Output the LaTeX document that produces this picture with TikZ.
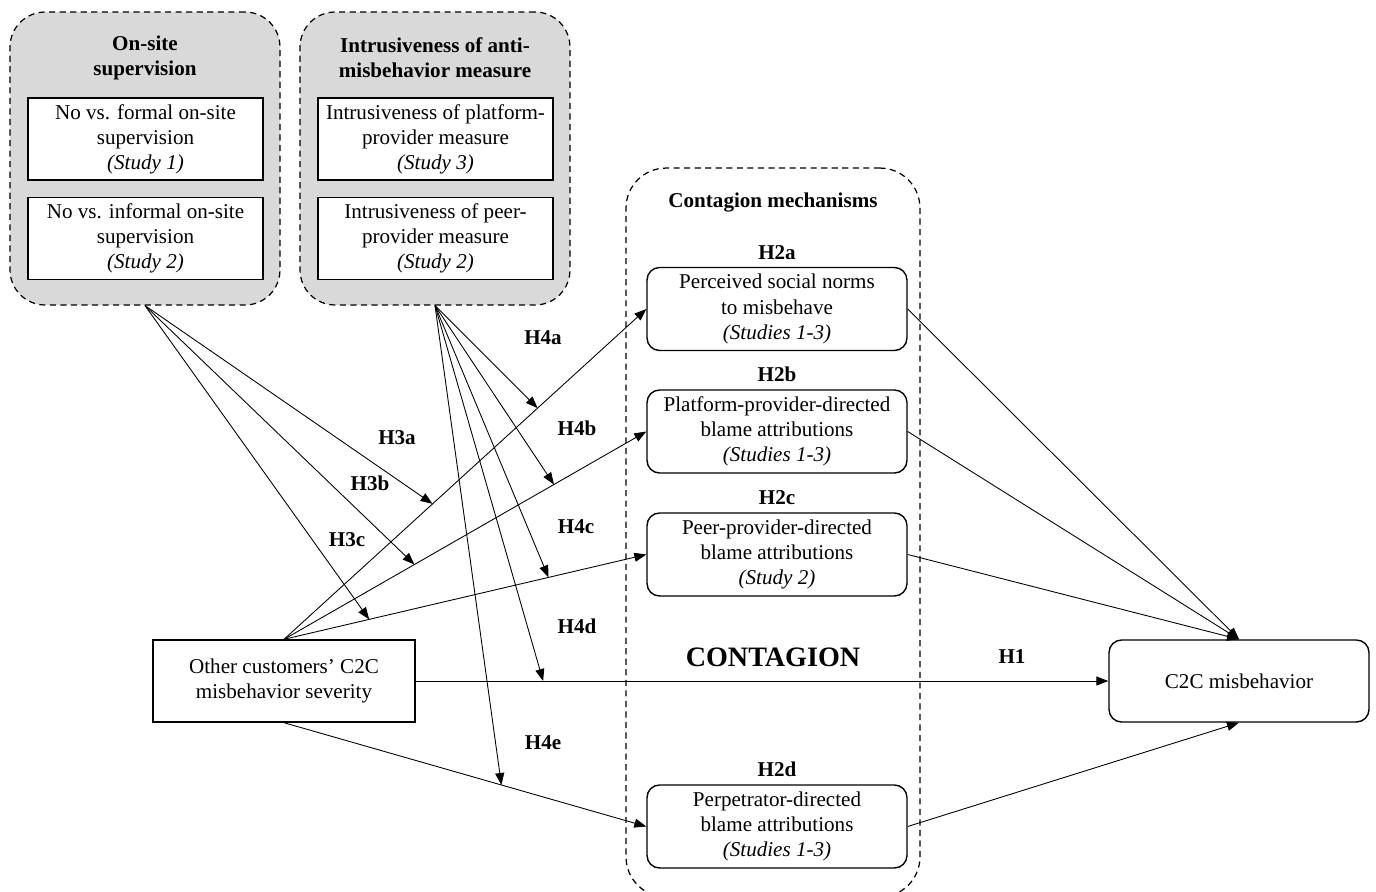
\documentclass[tikz,border=0pt]{standalone}
\usepackage{fontspec}
\setmainfont{Liberation Serif}
\usetikzlibrary{arrows.meta,positioning,calc}

\begin{document}
\begin{tikzpicture}[
    x=0.02cm, y=-0.02cm,
    font=\fontsize{12}{14.3}\selectfont,
    >={Triangle[length=2.4mm,width=1.8mm]},
    group/.style={draw, dash pattern=on 3.5pt off 2.5pt, line width=0.7pt, rounded corners=0.7cm, fill=black!15, minimum width=5.4cm, minimum height=5.86cm},
    varbox/.style={rectangle, draw, line width=0.8pt, fill=white, minimum width=4.7cm, minimum height=1.64cm, align=center},
    mechbox/.style={rectangle, draw, line width=0.8pt, rounded corners=0.25cm, fill=white, minimum width=5.2cm, minimum height=1.66cm, align=center},
    hyp/.style={font=\fontsize{12}{14.3}\selectfont\bfseries},
    link/.style={->, line width=0.5pt}
]
    \useasboundingbox (0,0) rectangle (1376,892);

    % moderator groups
    \node[group] (grp1) at (145,158.5) {};
    \node[group] (grp2) at (435,158.5) {};
    \node[hyp, align=center] (grp1t) at (145,58) {On-site\\supervision};
    \node[hyp, align=center] (grp2t) at (435,58) {Intrusiveness of anti-\\misbehavior measure};

    \node[varbox] (sup1) at (145.5,139) {No vs. formal on-site\\supervision\\\textit{(Study 1)}};
    \node[varbox, below=0.32cm of sup1] (sup2) {No vs. informal on-site\\supervision\\\textit{(Study 2)}};
    \node[varbox] (meas1) at (435.5,139) {Intrusiveness of platform-\\provider measure\\\textit{(Study 3)}};
    \node[varbox, below=0.32cm of meas1] (meas2) {Intrusiveness of peer-\\provider measure\\\textit{(Study 2)}};

    % mediators
    \node[draw, dash pattern=on 3.5pt off 2.5pt, line width=0.7pt, rounded corners=0.8cm, minimum width=5.88cm, minimum height=14.58cm] (mech) at (773,532.5) {};
    \node[hyp] (mecht) at (773,203) {Contagion mechanisms};

    \node[mechbox] (norms) at (777,309) {Perceived social norms\\to misbehave\\\textit{(Studies 1-3)}};
    \node[mechbox] (platf) at (777,431.5) {Platform-provider-directed\\blame attributions\\\textit{(Studies 1-3)}};
    \node[mechbox] (peer) at (777,554.5) {Peer-provider-directed\\blame attributions\\\textit{(Study 2)}};
    \node[mechbox] (perp) at (777,826.5) {Perpetrator-directed\\blame attributions\\\textit{(Studies 1-3)}};

    \node[hyp, above=0.02cm of norms] (h2a) {H2a};
    \node[hyp, above=0.02cm of platf] (h2b) {H2b};
    \node[hyp, above=0.02cm of peer] (h2c) {H2c};
    \node[hyp, above=0.02cm of perp] (h2d) {H2d};
    \node[font=\fontsize{16}{19}\selectfont\bfseries] (cont) at (773,657) {CONTAGION};

    % independent and dependent variable
    \node[varbox, minimum width=5.24cm] (oth) at (284,681) {Other customers' C2C\\misbehavior severity};
    \node[mechbox, minimum height=1.64cm] (mis) at (1239,681) {C2C misbehavior};

    % main paths
    \draw[link] (oth.east) -- (mis.west);
    \draw[link] (oth.north) -- (norms.west);
    \draw[link] (oth.north) -- (platf.west);
    \draw[link] (oth.north) -- (peer.west);
    \draw[link] (oth.south) -- (perp.west);
    \draw[link] (norms.east) -- (mis.north);
    \draw[link] (platf.east) -- (mis.north);
    \draw[link] (peer.east) -- (mis.north);
    \draw[link] (perp.east) -- (mis.south);

    % moderation
    \draw[link] (grp1.south) -- ($(oth.north)!0.41!(norms.west)$);
    \draw[link] (grp1.south) -- ($(oth.north)!0.36!(platf.west)$);
    \draw[link] (grp1.south) -- ($(oth.north)!0.235!(peer.west)$);
    \draw[link] (grp2.south) -- ($(oth.north)!0.70!(norms.west)$);
    \draw[link] (grp2.south) -- ($(oth.north)!0.745!(platf.west)$);
    \draw[link] (grp2.south) -- ($(oth.north)!0.73!(peer.west)$);
    \draw[link] (grp2.south) -- ($(oth.east)!0.184!(mis.west)$);
    \draw[link] (grp2.south) -- ($(oth.south)!0.60!(perp.west)$);

    \node[hyp] (h1) at (1012,657) {H1};
    \node[hyp] (h3a) at (397,438) {H3a};
    \node[hyp] (h3b) at (370,483) {H3b};
    \node[hyp] (h3c) at (347,540) {H3c};
    \node[hyp] (h4a) at (543,338) {H4a};
    \node[hyp] (h4b) at (577,428) {H4b};
    \node[hyp] (h4c) at (576,527) {H4c};
    \node[hyp] (h4d) at (577,626) {H4d};
    \node[hyp] (h4e) at (543,743) {H4e};
\end{tikzpicture}
\end{document}
